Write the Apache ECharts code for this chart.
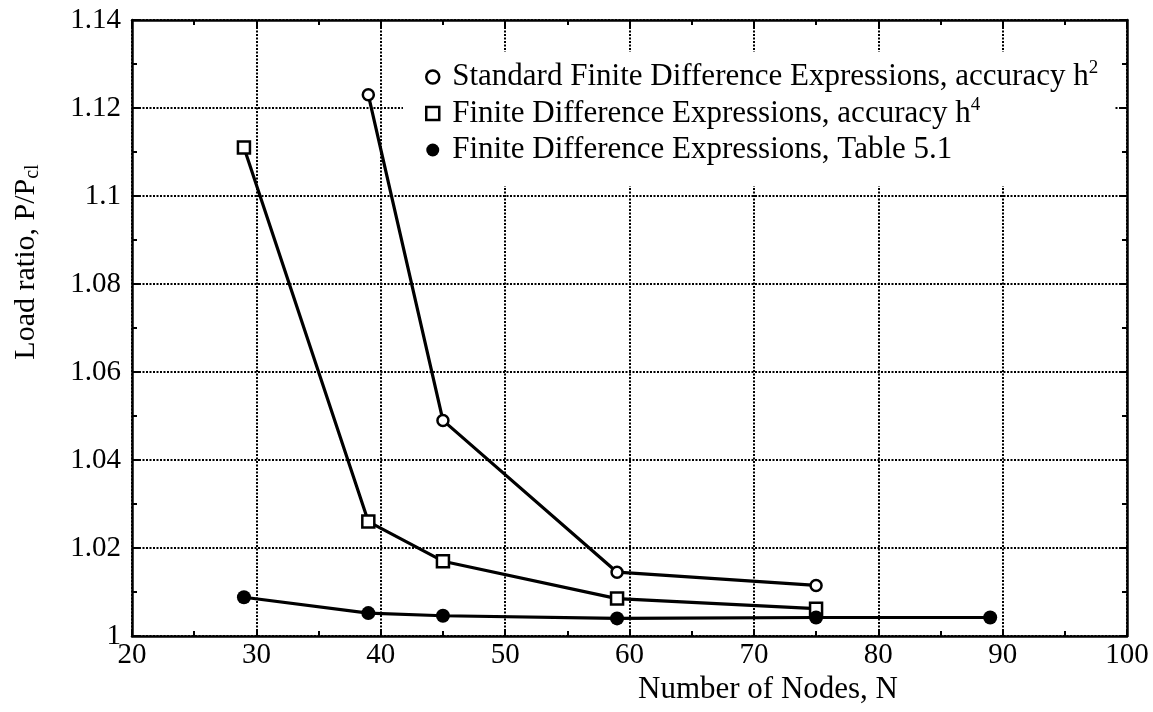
<!DOCTYPE html>
<html><head><meta charset="utf-8">
<script src="https://cdn.jsdelivr.net/npm/echarts@6/dist/echarts.min.js"></script>
<style>html,body{margin:0;padding:0;background:#fff}#c{width:1153px;height:712px}</style>
</head><body><div id="c"></div>
<script>
// ---- data ----
const nodesH2 = [39, 45, 59, 75];
const loadH2 = [1.123, 1.049, 1.0145, 1.0115];
const nodesH4 = [29, 39, 45, 59, 75];
const loadH4 = [1.111, 1.026, 1.017, 1.0085, 1.0062];
const nodesT51 = [29, 39, 45, 59, 75, 89];
const loadT51 = [1.0088, 1.0052, 1.0046, 1.0040, 1.0042, 1.0042];
const seriesNames = [
  'Standard Finite Difference Expressions, accuracy h2',
  'Finite Difference Expressions, accuracy h4',
  'Finite Difference Expressions, Table 5.1'
];
const xTickValues = [20, 30, 40, 50, 60, 70, 80, 90, 100];
const yTickValues = [1, 1.02, 1.04, 1.06, 1.08, 1.1, 1.12, 1.14];
const xTitle = 'Number of Nodes, N';
const yTitle = 'Load ratio, P/P{sub|cl}';

const FONT = 'Liberation Serif';
const pairs = (xs, ys) => xs.map((x, i) => [x, ys[i]]);

const chart = echarts.init(document.getElementById('c'), null, {renderer: 'canvas'});

const frameAxis = {
  axisLine: {show: true, lineStyle: {color: '#000', width: 2.5}},
  axisTick: {show: true, inside: true, length: 7, lineStyle: {color: '#000', width: 2}},
  minorTick: {show: true, splitNumber: 2, length: 5, lineStyle: {color: '#000', width: 2}},
};
const gridLine = {show: true, lineStyle: {color: '#000', width: 2, type: [2, 1.5]}};

const xMin = xTickValues[0], xMax = xTickValues[xTickValues.length - 1], xInt = xTickValues[1] - xTickValues[0];
const yMin = yTickValues[0], yMax = yTickValues[yTickValues.length - 1], yInt = 0.02;

const option = {
  backgroundColor: '#fff',
  animation: false,
  grid: {left: 132, right: 26, top: 20, bottom: 76, containLabel: false},
  xAxis: [
    Object.assign({
      type: 'value', min: xMin, max: xMax, interval: xInt, position: 'bottom',
      axisLabel: {show: true, color: '#000', fontFamily: FONT, fontSize: 29, margin: 5},
      splitLine: gridLine,
    }, frameAxis),
    Object.assign({
      type: 'value', min: xMin, max: xMax, interval: xInt, position: 'top',
      axisLabel: {show: false}, splitLine: {show: false},
    }, frameAxis),
  ],
  yAxis: [
    Object.assign({
      type: 'value', min: yMin, max: yMax, interval: yInt, position: 'left',
      axisLabel: {show: true, color: '#000', fontFamily: FONT, fontSize: 29, margin: 11},
      splitLine: gridLine,
    }, frameAxis),
    Object.assign({
      type: 'value', min: yMin, max: yMax, interval: yInt, position: 'right',
      axisLabel: {show: false}, splitLine: {show: false},
    }, frameAxis),
  ],
  legend: {
    orient: 'vertical', left: 403, top: 52, selectedMode: false,
    backgroundColor: '#fff', padding: [7, 16, 18, 22], z: 5,
    itemWidth: 13, itemHeight: 13, itemGap: 0.5,
    textStyle: {
      color: '#000', fontFamily: FONT, fontSize: 31, lineHeight: 36, padding: [0, 0, 0, 8],
      rich: {sup: {fontFamily: FONT, fontSize: 19, lineHeight: 36, verticalAlign: 'top'}}
    },
    formatter: name => name.replace(/h(\d)$/, 'h{sup|$1}'),
    data: [
      {name: seriesNames[0], icon: 'circle', itemStyle: {color: '#fff', borderColor: '#000', borderWidth: 2.5}},
      {name: seriesNames[1], icon: 'rect', itemStyle: {color: '#fff', borderColor: '#000', borderWidth: 2.5}},
      {name: seriesNames[2], icon: 'circle', itemStyle: {color: '#000', borderWidth: 0}},
    ]
  },
  series: [
    {
      name: seriesNames[0], type: 'line', data: pairs(nodesH2, loadH2),
      symbol: 'circle', symbolSize: 11, showAllSymbol: true,
      lineStyle: {color: '#000', width: 3.2},
      itemStyle: {color: '#fff', borderColor: '#000', borderWidth: 2.5},
      z: 3
    },
    {
      name: seriesNames[1], type: 'line', data: pairs(nodesH4, loadH4),
      symbol: 'rect', symbolSize: 12, showAllSymbol: true,
      lineStyle: {color: '#000', width: 3.2},
      itemStyle: {color: '#fff', borderColor: '#000', borderWidth: 2.5},
      z: 3
    },
    {
      name: seriesNames[2], type: 'line', data: pairs(nodesT51, loadT51),
      symbol: 'circle', symbolSize: 14, showAllSymbol: true,
      lineStyle: {color: '#000', width: 3.2},
      itemStyle: {color: '#000'},
      z: 3
    }
  ],
  graphic: [
    {
      type: 'text', x: 768, y: 690,
      style: {text: xTitle, fill: '#000', fontFamily: FONT, fontSize: 31, align: 'center', verticalAlign: 'middle'}
    },
    {
      type: 'text', x: 26, y: 262, rotation: Math.PI / 2,
      style: {
        text: yTitle, fill: '#000', fontFamily: FONT, fontSize: 30,
        align: 'center', verticalAlign: 'middle', lineHeight: 34,
        rich: {sub: {fontFamily: FONT, fontSize: 20, lineHeight: 34, verticalAlign: 'bottom'}}
      }
    }
  ]
};
chart.setOption(option);
</script>
</body></html>
